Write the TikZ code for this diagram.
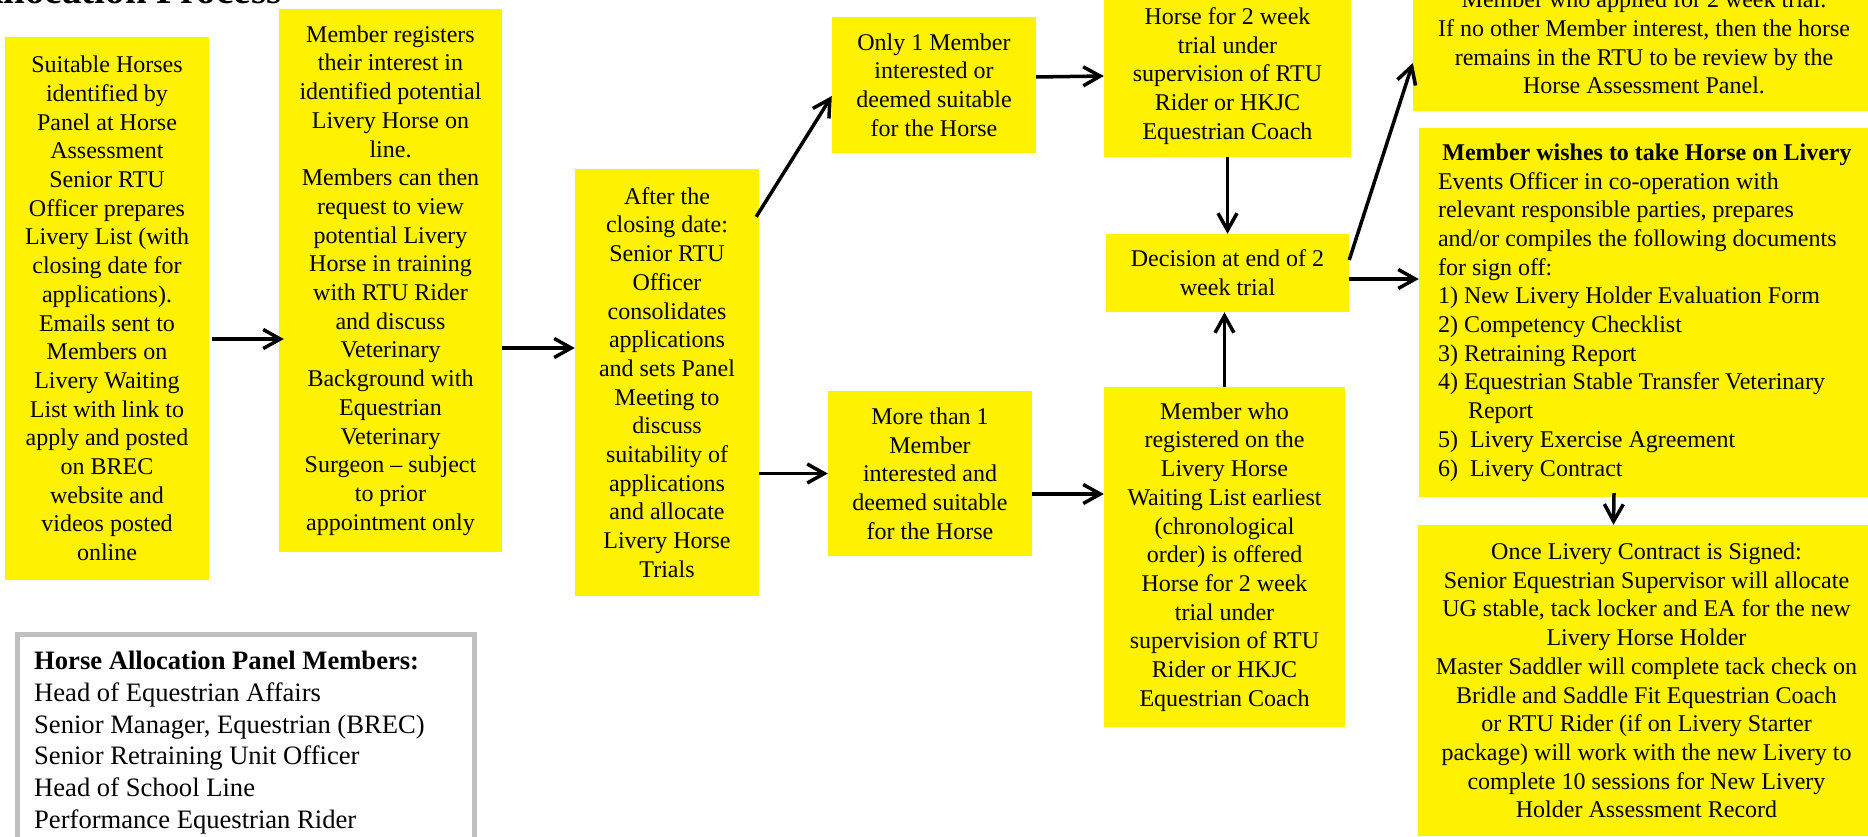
\documentclass[tikz,border=0pt]{standalone}
\usepackage{fontspec}
\setmainfont{Liberation Serif}
\usepackage{tikz}
\usetikzlibrary{arrows.meta, positioning, calc}
\setlength{\parindent}{0pt}
\definecolor{panelgray}{HTML}{C0C0C0}

\begin{document}
\begin{tikzpicture}[x=1pt, y=-1pt,
    box/.style={fill=yellow, align=center, inner sep=0pt, font=\fontsize{24}{28.7}\selectfont},
    arr/.style={-{Straight Barb[length=17pt,width=19pt]}, line width=3.5pt}]

            \useasboundingbox (0,0) rectangle (1868,837);

            % Title (cut by the page top)
            \node (title) [anchor=base west, font=\fontsize{39}{44}\selectfont\bfseries] at (-28,4) {Allocation Process};

            % Column 1 and 2
            \node (b1) [box, minimum width=204pt, minimum height=543pt] at (107,308.5) {Suitable Horses\\ identified by\\ Panel at Horse\\ Assessment\\ Senior RTU\\ Officer prepares\\ Livery List (with\\ closing date for\\ applications).\\ Emails sent to\\ Members on\\ Livery Waiting\\ List with link to\\ apply and posted\\ on BREC\\ website and\\ videos posted\\ online};
            \node (b2) [box, minimum width=223pt, minimum height=543pt] at (390.5,280.5) {Member registers\\ their interest in\\ identified potential\\ Livery Horse on\\ line.\\ Members can then\\ request to view\\ potential Livery\\ Horse in training\\ with RTU Rider\\ and discuss\\ Veterinary\\ Background with\\ Equestrian\\ Veterinary\\ Surgeon -- subject\\ to prior\\ appointment only};

            % Closing date
            \node (b3) [box, minimum width=184pt, minimum height=427pt] at (667,382.5) {After the\\ closing date:\\ Senior RTU\\ Officer\\ consolidates\\ applications\\ and sets Panel\\ Meeting to\\ discuss\\ suitability of\\ applications\\ and allocate\\ Livery Horse\\ Trials};

            % The two cases
            \node (b4) [box, minimum width=204pt, minimum height=136pt] at (934,85) {Only 1 Member\\ interested or\\ deemed suitable\\ for the Horse};
            \node (b5) [box, minimum width=204pt, minimum height=165pt] at (930,473.5) {More than 1\\ Member\\ interested and\\ deemed suitable\\ for the Horse};

            % Trial column
            \node (b6) [box, minimum width=247pt, minimum height=162pt] at (1227.5,76) {Horse for 2 week\\ trial under\\ supervision of RTU\\ Rider or HKJC\\ Equestrian Coach};
            \node (b7) [box, minimum width=243pt, minimum height=78pt] at (1227.5,273) {Decision at end of 2\\ week trial};
            \node (b8) [box, minimum width=241pt, minimum height=340pt] at (1224.5,557) {Member who\\ registered on the\\ Livery Horse\\ Waiting List earliest\\ (chronological\\ order) is offered\\ Horse for 2 week\\ trial under\\ supervision of RTU\\ Rider or HKJC\\ Equestrian Coach};

            % Outcomes
            \node (b9) [box, minimum width=462pt, minimum height=137pt] at (1644,42.5) {Member who applied for 2 week trial.\\ If no other Member interest, then the horse\\ remains in the RTU to be review by the\\ Horse Assessment Panel.};
            \node (b10) [box, align=left, minimum width=456pt, minimum height=369pt] at (1647,312.5) {\makebox[418pt][c]{\textbf{Member wishes to take Horse on Livery}}\\ Events Officer in co-operation with\\ relevant responsible parties, prepares\\ and/or compiles the following documents\\ for sign off:\\ 1) New Livery Holder Evaluation Form\\ 2) Competency Checklist\\ 3) Retraining Report\\ 4) Equestrian Stable Transfer Veterinary\\ \hspace*{30pt}Report\\ 5)~ Livery Exercise Agreement\\ 6)~ Livery Contract};
            \node (b11) [box, minimum width=457pt, minimum height=311pt] at (1646.5,680.5) {Once Livery Contract is Signed:\\ Senior Equestrian Supervisor will allocate\\ UG stable, tack locker and EA for the new\\ Livery Horse Holder\\ Master Saddler will complete tack check on\\ Bridle and Saddle Fit Equestrian Coach\\ or RTU Rider (if on Livery Starter\\ package) will work with the new Livery to\\ complete 10 sessions for New Livery\\ Holder Assessment Record};

            % Panel members
            \draw[panelgray, line width=5pt] (17.5,634.5) rectangle (474.5,870);
            \node (panel) [anchor=north west, align=left, inner sep=0pt, font=\fontsize{26.6}{31.7}\selectfont] at (34,651) {\textbf{Horse Allocation Panel Members:}\\ Head of Equestrian Affairs\\ Senior Manager, Equestrian (BREC)\\ Senior Retraining Unit Officer\\ Head of School Line\\ Performance Equestrian Rider};

            % Arrows
            \draw[arr] ([xshift=3pt,yshift=-30.5pt]b1.east) -- ([xshift=5pt,yshift=-58.5pt]b2.west);
            \draw[arr] ([yshift=-67.5pt]b2.east) -- ([yshift=34.5pt]b3.west);
            \draw[arr] ([xshift=-3pt,yshift=-48pt]b3.north east) -- ([yshift=-11pt]b4.west);
            \draw[arr] ([yshift=-91pt]b3.east) -- (b5.west);
            \draw[arr] ([yshift=8pt]b4.east) -- (b6.west);
            \draw[arr] ([yshift=-20.5pt]b5.east) -- ([yshift=63pt]b8.west);
            \draw[arr] (b6.south) -- (b7.north);
            \draw[arr] (b8.north) -- (b8.north |- b7.south);
            \draw[arr] ([yshift=13pt]b7.east) -- ([yshift=-20.5pt]b9.west);
            \draw[arr] ([yshift=-6pt]b7.east) -- ([yshift=-6pt]b7.east -| b10.west);
            \draw[arr] ([xshift=-33pt,yshift=4pt]b10.south) -- ([xshift=-33pt]b11.north);

\end{tikzpicture}
\end{document}
